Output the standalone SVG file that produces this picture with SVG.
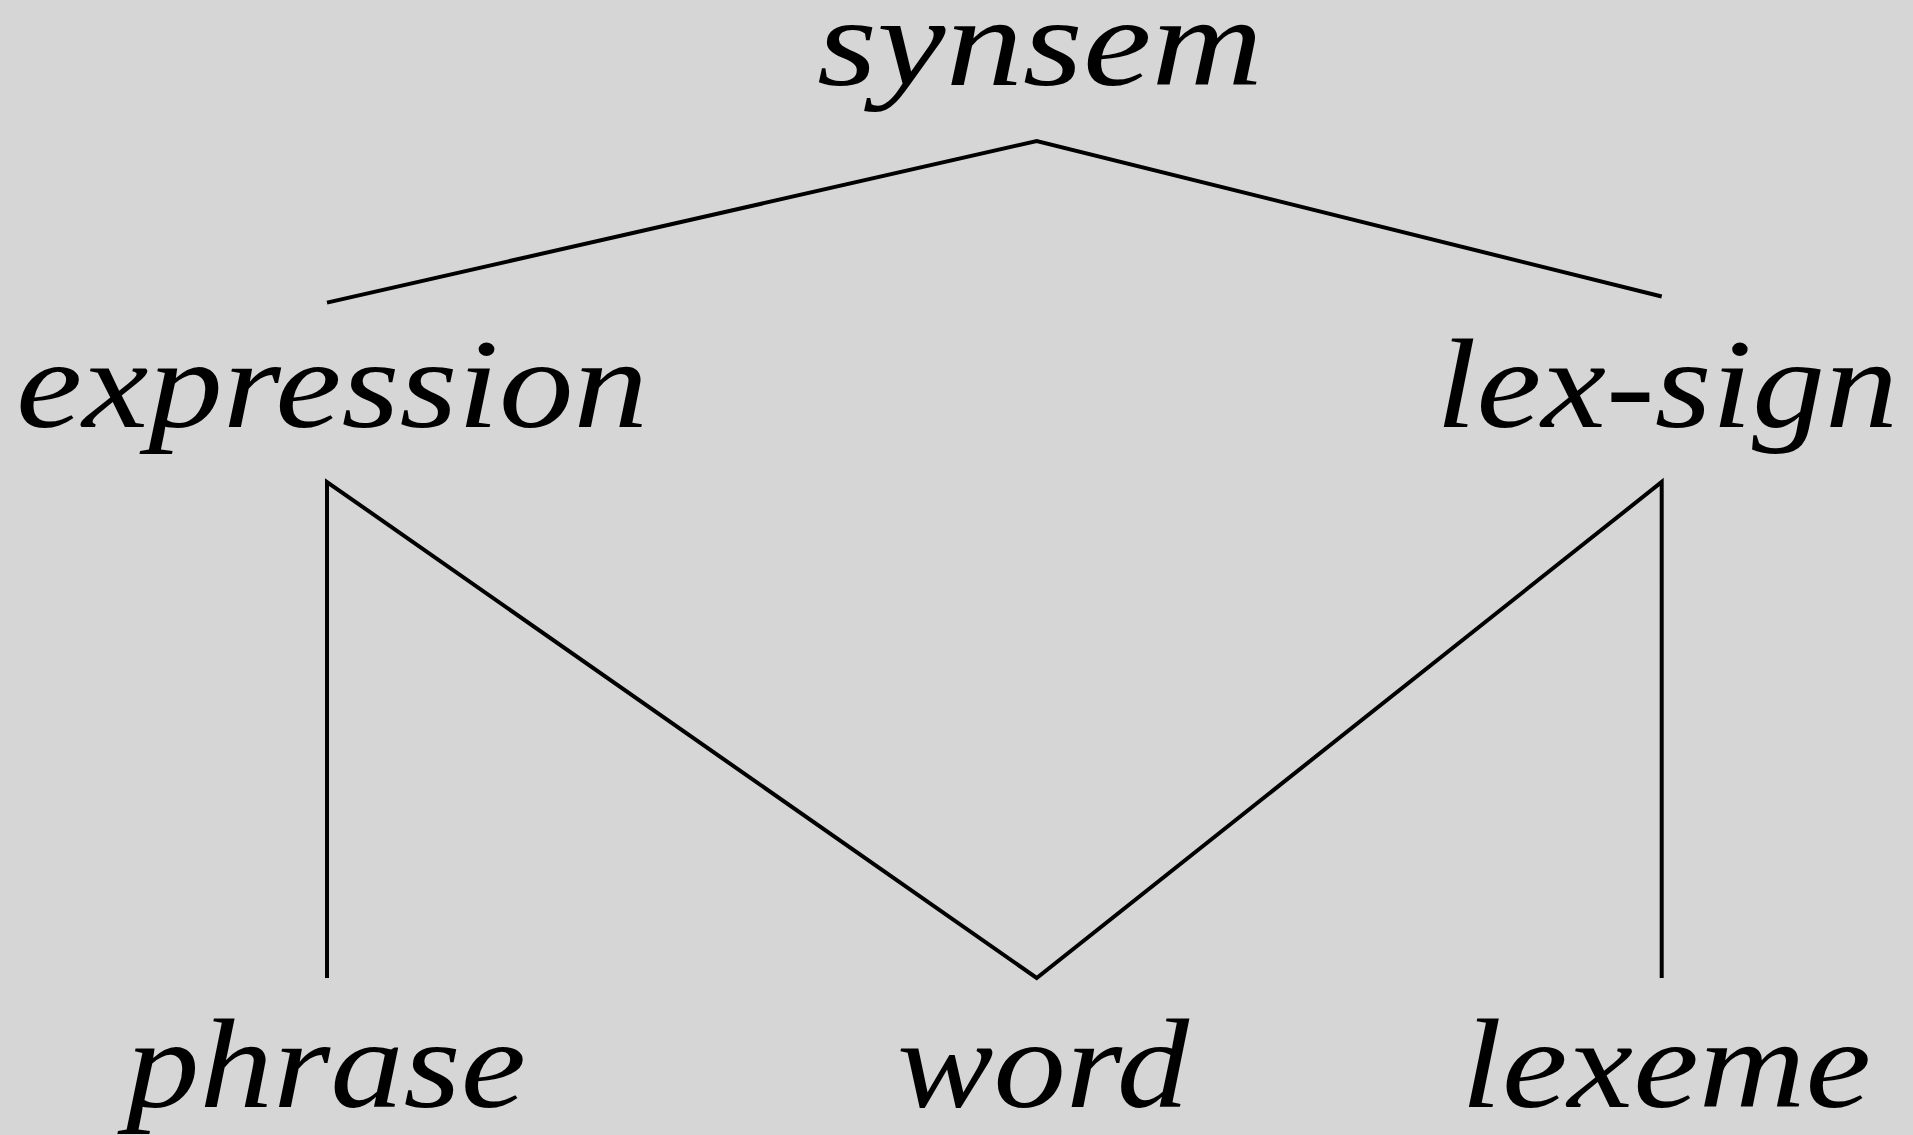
<svg xmlns="http://www.w3.org/2000/svg" width="1913" height="1135" viewBox="0 0 1913 1135">
<style>
.lbl{font-family:"Liberation Serif","Times New Roman",serif;font-style:italic;font-size:128px;fill:#000;text-anchor:middle}
.edge{fill:none;stroke:#000;stroke-width:4;stroke-linejoin:miter;stroke-miterlimit:20}
</style>
<rect width="1913" height="1135" fill="#d6d6d6"/>
<g id="connectors">
<path class="edge" d="M327,302.6 L1036.7,141 L1661.7,296.5"/>
<path class="edge" d="M327,978 L327,482 L1036.7,978 L1661.7,482 L1661.7,978"/>
</g>
<g id="synsem"><text class="lbl" x="1040" y="85" textLength="446" lengthAdjust="spacingAndGlyphs">synsem</text></g>
<g id="expression"><text class="lbl" x="332" y="427" textLength="632" lengthAdjust="spacingAndGlyphs">expression</text></g>
<g id="lex-sign"><text class="lbl" x="1667" y="427" textLength="462" lengthAdjust="spacingAndGlyphs">lex-sign</text></g>
<g id="phrase"><text class="lbl" x="326" y="1107" textLength="400" lengthAdjust="spacingAndGlyphs">phrase</text></g>
<g id="word"><text class="lbl" x="1043" y="1107" textLength="292" lengthAdjust="spacingAndGlyphs">word</text></g>
<g id="lexeme"><text class="lbl" x="1666" y="1107" textLength="410" lengthAdjust="spacingAndGlyphs">lexeme</text></g>
</svg>
